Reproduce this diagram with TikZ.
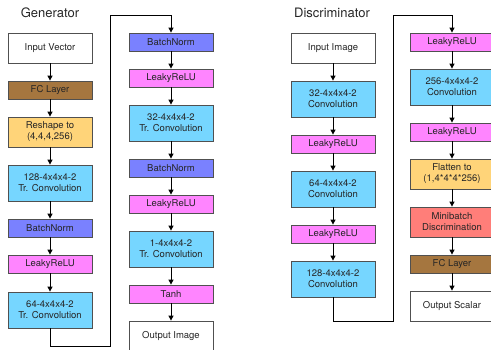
\documentclass[tikz,border=0pt]{standalone}
\usepackage{fontspec}
\setmainfont{TeX Gyre Heros}
\usetikzlibrary{arrows.meta}
\definecolor{cwhite}{HTML}{FFFFFF}
\definecolor{cbrown}{HTML}{A5763F}
\definecolor{cyellow}{HTML}{FFD479}
\definecolor{cblue}{HTML}{76D6FF}
\definecolor{cpurple}{HTML}{7A81FF}
\definecolor{cpink}{HTML}{FF85FF}
\definecolor{csalmon}{HTML}{FF7E79}
\definecolor{cborder}{HTML}{505050}
\definecolor{ctext}{HTML}{262626}
\tikzset{
  layer/.style={draw=cborder, line width=0.8pt, minimum width=84pt, inner sep=0pt,
    align=center, font=\fontsize{9.5}{11}\selectfont, text=ctext},
  thin/.style={layer, minimum height=18pt},
  tall/.style={layer, minimum height=30pt},
  conv/.style={layer, minimum height=36pt, fill=cblue},
  conn/.style={draw=black, line width=1pt, -{Triangle[length=5pt,width=5pt]}},
  title/.style={font=\fontsize{13}{15}\selectfont, text=ctext, inner sep=0pt},
}
\begin{document}
\begin{tikzpicture}[x=1pt,y=-1pt]
\useasboundingbox (0,0) rectangle (491,349);
% Titles
\node[title] (gt) at (50,13) {Generator};
\node[title] (dt) at (332,13) {Discriminator};
% Generator column 1
\node[tall, fill=cwhite] (gin) at (50,48) {Input Vector};
\node[thin, fill=cbrown] (gfc) at (50,90) {FC Layer};
\node[tall, fill=cyellow] (gres) at (50,132) {Reshape to\\(4,4,4,256)};
\node[conv] (gc1) at (50,183) {128-4x4x4-2\\Tr. Convolution};
\node[thin, fill=cpurple] (gbn1) at (50,228) {BatchNorm};
\node[thin, fill=cpink] (glr1) at (50,264) {LeakyReLU};
\node[conv] (gc2) at (50,310) {64-4x4x4-2\\Tr. Convolution};
% Generator column 2
\node[thin, fill=cpurple] (gbn2) at (171,42) {BatchNorm};
\node[thin, fill=cpink] (glr2) at (171,78) {LeakyReLU};
\node[conv] (gc3) at (171,123) {32-4x4x4-2\\Tr. Convolution};
\node[thin, fill=cpurple] (gbn3) at (171,168) {BatchNorm};
\node[thin, fill=cpink] (glr3) at (171,204) {LeakyReLU};
\node[conv] (gc4) at (171,249) {1-4x4x4-2\\Tr. Convolution};
\node[thin, fill=cpink] (gtanh) at (171,294) {Tanh};
\node[tall, fill=cwhite] (gout) at (171,336) {Output Image};
% Discriminator column 1
\node[tall, fill=cwhite] (din) at (333,48) {Input Image};
\node[conv] (dc1) at (333,99) {32-4x4x4-2\\Convolution};
\node[thin, fill=cpink] (dlr1) at (333,144) {LeakyReLU};
\node[conv] (dc2) at (333,189) {64-4x4x4-2\\Convolution};
\node[thin, fill=cpink] (dlr2) at (333,234) {LeakyReLU};
\node[conv] (dc3) at (333,279) {128-4x4x4-2\\Convolution};
% Discriminator column 2
\node[thin, fill=cpink] (dlr3) at (452,42) {LeakyReLU};
\node[conv] (dc4) at (452,87) {256-4x4x4-2\\Convolution};
\node[thin, fill=cpink] (dlr4) at (452,132) {LeakyReLU};
\node[tall, fill=cyellow] (dflat) at (452,174) {Flatten to\\(1,4*4*4*256)};
\node[tall, fill=csalmon] (dmb) at (452,222) {Minibatch\\Discrimination};
\node[thin, fill=cbrown] (dfc) at (452,264) {FC Layer};
\node[tall, fill=cwhite] (dout) at (452,306) {Output Scalar};
% Generator connectors
\draw[conn] (gin) -- (gfc);
\draw[conn] (gfc) -- (gres);
\draw[conn] (gres) -- (gc1);
\draw[conn] (gc1) -- (gbn1);
\draw[conn] (gbn1) -- (glr1);
\draw[conn] (glr1) -- (gc2);
\coordinate (gA) at (110,346);
\coordinate (gB) at (110,15);
\draw[conn] (gc2.south) |- (gA) -- (gB) -| (gbn2.north);
\draw[conn] (gbn2) -- (glr2);
\draw[conn] (glr2) -- (gc3);
\draw[conn] (gc3) -- (gbn3);
\draw[conn] (gbn3) -- (glr3);
\draw[conn] (glr3) -- (gc4);
\draw[conn] (gc4) -- (gtanh);
\draw[conn] (gtanh) -- (gout);
% Discriminator connectors
\draw[conn] (din) -- (dc1);
\draw[conn] (dc1) -- (dlr1);
\draw[conn] (dlr1) -- (dc2);
\draw[conn] (dc2) -- (dlr2);
\draw[conn] (dlr2) -- (dc3);
\coordinate (dA) at (393,321);
\coordinate (dB) at (393,15);
\draw[conn] (dc3.south) |- (dA) -- (dB) -| (dlr3.north);
\draw[conn] (dlr3) -- (dc4);
\draw[conn] (dc4) -- (dlr4);
\draw[conn] (dlr4) -- (dflat);
\draw[conn] (dflat) -- (dmb);
\draw[conn] (dmb) -- (dfc);
\draw[conn] (dfc) -- (dout);
\end{tikzpicture}
\end{document}
